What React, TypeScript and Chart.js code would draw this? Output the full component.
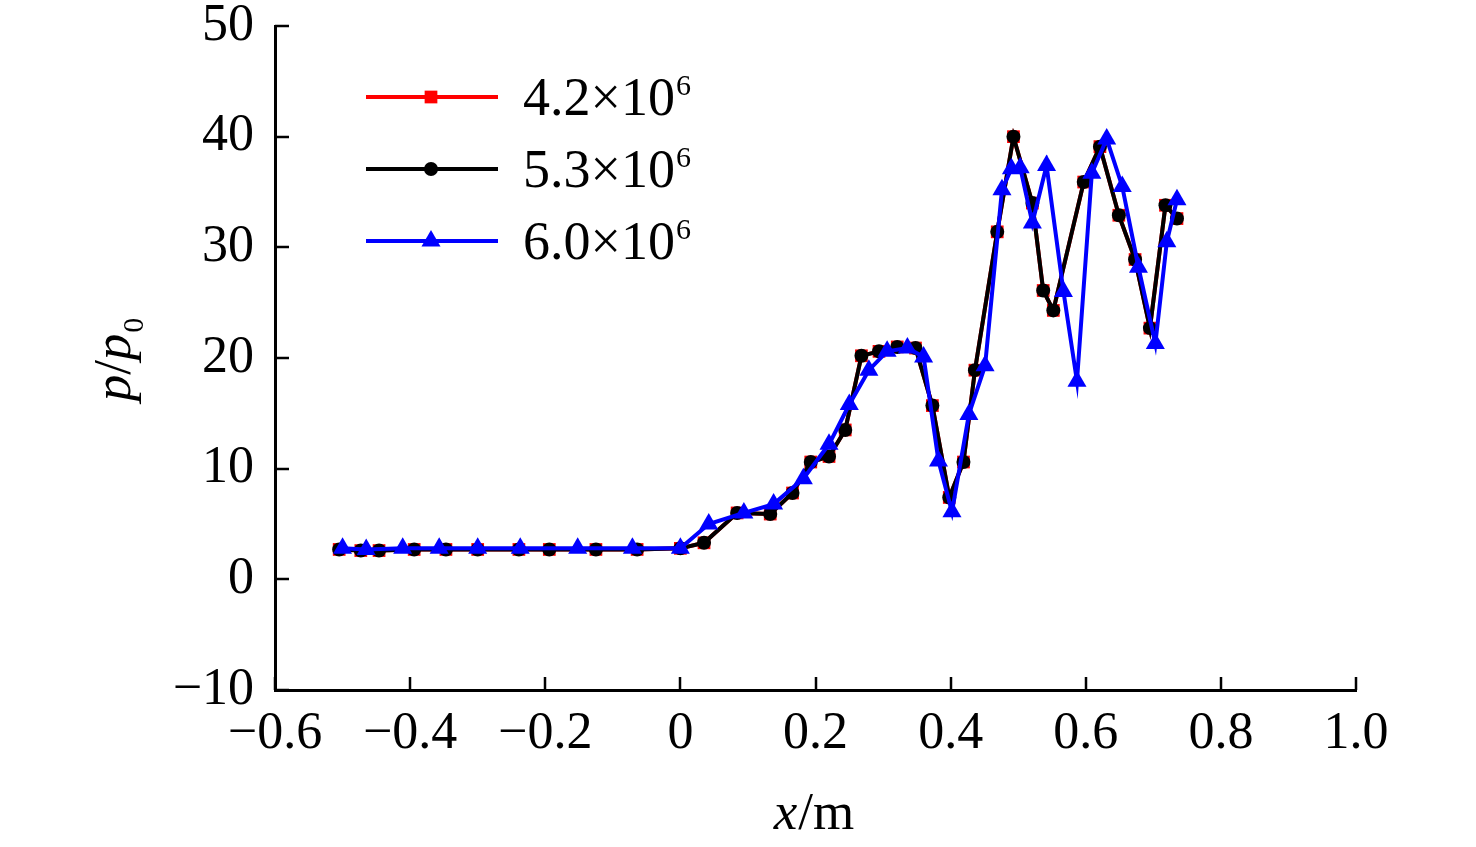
import { useEffect, useRef } from 'react';
import { Chart, registerables } from 'chart.js';
import type { Plugin } from 'chart.js';

Chart.register(...registerables);

const FONT = "'Liberation Serif', 'Times New Roman', serif";

const xTicks = [-0.6, -0.4, -0.2, 0, 0.2, 0.4, 0.6, 0.8, 1.0];
const yTicks = [-10, 0, 10, 20, 30, 40, 50];

const legendBase = ['4.2×10', '5.3×10', '6.0×10'];
const legendExp = ['6', '6', '6'];

const redX = [-0.505, -0.473, -0.446, -0.394, -0.347, -0.3, -0.239, -0.194, -0.125, -0.064, 0.0, 0.035, 0.084, 0.133, 0.166, 0.193, 0.22, 0.244, 0.268, 0.294, 0.321, 0.348, 0.373, 0.398, 0.419, 0.436, 0.469, 0.493, 0.521, 0.537, 0.552, 0.597, 0.621, 0.649, 0.673, 0.695, 0.718, 0.735];
const redY = [2.7, 2.6, 2.6, 2.7, 2.7, 2.7, 2.7, 2.7, 2.7, 2.7, 2.8, 3.3, 6.0, 5.9, 7.8, 10.6, 11.1, 13.5, 20.2, 20.6, 21.0, 20.9, 15.7, 7.4, 10.6, 18.9, 31.4, 40.0, 34.0, 26.1, 24.3, 35.9, 39.1, 32.9, 28.9, 22.7, 33.8, 32.6];

const blackX = [-0.505, -0.473, -0.446, -0.394, -0.347, -0.3, -0.239, -0.194, -0.125, -0.064, 0.0, 0.035, 0.084, 0.133, 0.166, 0.193, 0.22, 0.244, 0.268, 0.294, 0.321, 0.348, 0.373, 0.398, 0.419, 0.436, 0.469, 0.493, 0.521, 0.537, 0.552, 0.597, 0.621, 0.649, 0.673, 0.695, 0.718, 0.735];
const blackY = [2.7, 2.6, 2.6, 2.7, 2.7, 2.7, 2.7, 2.7, 2.7, 2.7, 2.8, 3.3, 6.0, 5.9, 7.8, 10.6, 11.1, 13.5, 20.2, 20.6, 21.0, 20.9, 15.7, 7.4, 10.6, 18.9, 31.4, 40.0, 34.0, 26.1, 24.3, 35.9, 39.1, 32.9, 28.9, 22.7, 33.8, 32.6];

const blueX = [-0.5, -0.465, -0.411, -0.357, -0.3, -0.237, -0.152, -0.071, 0.0, 0.042, 0.094, 0.138, 0.182, 0.22, 0.25, 0.279, 0.306, 0.336, 0.36, 0.382, 0.402, 0.427, 0.451, 0.476, 0.49, 0.503, 0.521, 0.542, 0.567, 0.587, 0.609, 0.631, 0.654, 0.678, 0.703, 0.72, 0.735];
const blueY = [2.8, 2.7, 2.8, 2.8, 2.8, 2.8, 2.8, 2.8, 2.8, 5.0, 6.0, 6.8, 9.1, 12.2, 15.8, 18.9, 20.6, 20.9, 20.1, 10.7, 6.1, 14.9, 19.3, 35.2, 37.1, 37.2, 32.2, 37.4, 26.0, 17.9, 36.7, 39.8, 35.5, 28.2, 21.3, 30.5, 34.3];

const toPoints = (xs: number[], ys: number[]) => xs.map((x, i) => ({ x, y: ys[i] }));

const fmtX = (v: number) => (Math.abs(v) < 1e-9 ? '0' : v.toFixed(1).replace('-', '−'));
const fmtY = (v: number) => String(Math.round(v)).replace('-', '−');

// ticks point into the plot area
const innerTicks: Plugin = {
  id: 'innerTicks',
  beforeDatasetsDraw(chart) {
    const { ctx, chartArea, scales } = chart;
    ctx.save();
    ctx.strokeStyle = '#000';
    ctx.lineWidth = 2.5;
    ctx.beginPath();
    xTicks.forEach((t) => {
      const px = Math.round(scales.x.getPixelForValue(t));
      ctx.moveTo(px, chartArea.bottom);
      ctx.lineTo(px, chartArea.bottom - 13);
    });
    yTicks.forEach((t) => {
      const py = Math.round(scales.y.getPixelForValue(t));
      ctx.moveTo(chartArea.left, py);
      ctx.lineTo(chartArea.left + 14, py);
    });
    ctx.stroke();
    ctx.restore();
  },
};

function drawMarker(ctx: CanvasRenderingContext2D, style: string, x: number, y: number, r: number) {
  ctx.beginPath();
  if (style === 'rect') {
    const s = Math.SQRT1_2 * r;
    ctx.rect(x - s, y - s, 2 * s, 2 * s);
  } else if (style === 'triangle') {
    ctx.moveTo(x, y - r);
    ctx.lineTo(x + r * 0.866, y + r / 2);
    ctx.lineTo(x - r * 0.866, y + r / 2);
    ctx.closePath();
  } else {
    ctx.arc(x, y, r, 0, Math.PI * 2);
  }
  ctx.fill();
}

const annotations: Plugin = {
  id: 'annotations',
  afterDraw(chart) {
    const { ctx, chartArea } = chart;
    const left = chartArea.left;
    const top = chartArea.top;
    ctx.save();
    ctx.fillStyle = '#000';
    ctx.textBaseline = 'alphabetic';
    ctx.textAlign = 'left';

    // legend in legend order (red, black, blue)
    [0, 1, 2].forEach((i) => {
      const ds: any = chart.data.datasets[i];
      const rowY = top + 71 + i * 72;
      ctx.strokeStyle = ds.borderColor;
      ctx.lineWidth = 4;
      ctx.beginPath();
      ctx.moveTo(left + 91, rowY);
      ctx.lineTo(left + 223, rowY);
      ctx.stroke();
      ctx.fillStyle = ds.borderColor;
      drawMarker(ctx, ds.pointStyle, left + 156, rowY, ds.pointRadius);
      ctx.fillStyle = '#000';
      ctx.font = `54px ${FONT}`;
      const tx = left + 248;
      ctx.fillText(legendBase[i], tx, rowY + 18);
      const w = ctx.measureText(legendBase[i]).width;
      ctx.font = `30px ${FONT}`;
      ctx.fillText(legendExp[i], tx + w + 1, rowY - 2);
    });

    // x axis title
    ctx.font = `italic 53px ${FONT}`;
    const wx = ctx.measureText('x').width;
    ctx.font = `53px ${FONT}`;
    const wm = ctx.measureText('/m').width;
    const cx = (chartArea.left + chartArea.right) / 2 - 2;
    let sx = cx - (wx + wm) / 2;
    ctx.font = `italic 53px ${FONT}`;
    ctx.fillText('x', sx, 829);
    ctx.font = `53px ${FONT}`;
    ctx.fillText('/m', sx + wx + 1, 829);

    // y axis title
    ctx.translate(130, 360);
    ctx.rotate(-Math.PI / 2);
    ctx.font = `italic 53px ${FONT}`;
    const wp = ctx.measureText('p').width;
    ctx.font = `53px ${FONT}`;
    const ws = ctx.measureText('/').width;
    ctx.font = `30px ${FONT}`;
    const w0 = ctx.measureText('0').width;
    sx = -(wp * 2 + ws + w0) / 2;
    ctx.font = `italic 53px ${FONT}`;
    ctx.fillText('p', sx, 0);
    ctx.font = `53px ${FONT}`;
    ctx.fillText('/', sx + wp, 0);
    ctx.font = `italic 53px ${FONT}`;
    ctx.fillText('p', sx + wp + ws, 0);
    ctx.font = `30px ${FONT}`;
    ctx.fillText('0', sx + wp * 2 + ws + 1, 13);
    ctx.restore();
  },
};

export default function App() {
  const canvasRef = useRef<HTMLCanvasElement>(null);
  const chartRef = useRef<Chart | null>(null);

  useEffect(() => {
    document.body.style.margin = '0';
    if (!canvasRef.current) return;
    if (chartRef.current) chartRef.current.destroy();

    const lineDs = (label: string, color: string, style: string, r: number, xs: number[], ys: number[], order: number) => ({
      label,
      data: toPoints(xs, ys),
      borderColor: color,
      backgroundColor: color,
      borderWidth: 4,
      pointStyle: style,
      pointRadius: r,
      pointBorderWidth: 0,
      pointBackgroundColor: color,
      tension: 0,
      order,
    });

    chartRef.current = new Chart(canvasRef.current, {
      type: 'line',
      data: {
        datasets: [
          lineDs('4.2×10⁶', '#ff0000', 'rect', 9, redX, redY, 3),
          lineDs('5.3×10⁶', '#000000', 'circle', 7, blackX, blackY, 2),
          lineDs('6.0×10⁶', '#0000ff', 'triangle', 11, blueX, blueY, 1),
        ] as any,
      },
      options: {
        responsive: false,
        animation: false,
        devicePixelRatio: 1,
        layout: { padding: { top: 26, right: 120, left: 0, bottom: 0 } },
        plugins: { legend: { display: false }, tooltip: { enabled: false } },
        scales: {
          x: {
            type: 'linear',
            min: -0.6,
            max: 1.0,
            afterBuildTicks: (scale: any) => {
              scale.ticks = xTicks.map((value) => ({ value }));
            },
            afterFit: (scale: any) => {
              scale.height = 157;
              scale.paddingLeft = 0;
              scale.paddingRight = 0;
            },
            grid: { display: false },
            border: { display: true, color: '#000', width: 3 },
            ticks: {
              color: '#000',
              padding: 10,
              maxRotation: 0,
              autoSkip: false,
              font: { family: FONT, size: 52, lineHeight: 1 },
              callback: (v: any) => fmtX(Number(v)),
            },
          },
          y: {
            type: 'linear',
            min: -10,
            max: 50,
            afterBuildTicks: (scale: any) => {
              scale.ticks = yTicks.map((value) => ({ value }));
            },
            afterFit: (scale: any) => {
              scale.width = 275;
              scale.paddingTop = 0;
              scale.paddingBottom = 0;
            },
            grid: { display: false },
            border: { display: true, color: '#000', width: 3 },
            ticks: {
              color: '#000',
              padding: 13,
              autoSkip: false,
              font: { family: FONT, size: 52, lineHeight: 1 },
              callback: (v: any) => fmtY(Number(v)),
            },
          },
        },
      },
      plugins: [innerTicks, annotations],
    });

    return () => {
      if (chartRef.current) {
        chartRef.current.destroy();
        chartRef.current = null;
      }
    };
  }, []);

  return (
    <div style={{ position: 'fixed', left: 0, top: 0, width: 1476, height: 847, background: '#fff' }}>
      <canvas ref={canvasRef} width={1476} height={847} />
    </div>
  );
}
